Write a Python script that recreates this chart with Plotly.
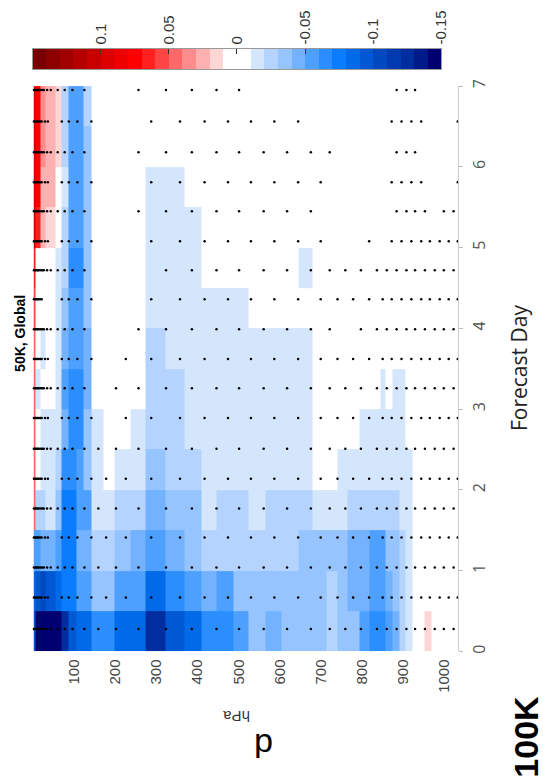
import numpy as np
import plotly.graph_objects as go

# ---------------- data ----------------
# pressure bin edges (hPa) and forecast-day bin edges
pressure_edges = [0, 4, 18, 30, 54, 69, 86, 105, 122, 141, 170, 198, 237, 273, 321, 369,
                  410, 446, 487, 525, 566, 604, 645, 681, 715, 741, 765, 794, 820, 846,
                  858, 875, 892, 906, 923, 940, 954, 969, 1035]
day_edges = [0, 0.5, 1.0, 1.5, 2.0, 2.5, 3.0, 3.5, 4.0, 4.5, 5.0, 5.5, 6.0, 6.5, 7.0]

# anomaly values in mK, one row per half-day bin (day 0-0.5 first)
anom_mK = [
    [-95, -145, -145, -145, -145, -125, -95, -85, -85, -65, -65, -85, -85, -125, -95, -85, -65, -65, -55, -35, -45, -35, -35, -35, -25, -35, -35, -55, -65, -65, -55, -45, -25, -15, 0, 0, 15, 0],
    [-85, -95, -105, -95, -85, -75, -75, -55, -55, -35, -35, -55, -55, -85, -65, -55, -45, -55, -35, -35, -35, -35, -35, -35, -25, -35, -45, -45, -55, -55, -45, -35, -25, -15, 0, 0, 0, 0],
    [-55, -55, -45, -45, -55, -75, -75, -45, -45, -25, -25, -35, -45, -55, -45, -35, -25, -25, -25, -25, -25, -25, -35, -35, -35, -35, -45, -45, -55, -55, -35, -35, -25, -15, 0, 0, 0, 0],
    [45, -25, -25, -15, -35, -75, -75, -55, -55, -15, -15, -25, -25, -45, -35, -35, -15, -25, -25, -15, -25, -25, -25, -15, -15, -15, -25, -25, -25, -25, -25, -25, -15, -15, 0, 0, 0, 0],
    [45, 0, -15, -15, -25, -65, -65, -55, -35, -15, 0, -15, -15, -35, -25, -25, -15, -15, -15, -15, -15, -15, -15, 0, 0, -15, -15, -15, -15, -15, -15, -15, -15, -15, 0, 0, 0, 0],
    [45, 0, -15, -15, -15, -45, -65, -65, -35, -15, 0, 0, -15, -25, -25, -15, -15, -15, -15, -15, -15, -15, -15, 0, 0, 0, 0, -15, -15, -15, -15, -15, -15, 0, 0, 0, 0, 0],
    [45, -15, 0, 0, -15, -55, -65, -65, -45, 0, 0, 0, 0, -25, -25, -15, -15, -15, -15, -15, -15, -15, -15, 0, 0, 0, 0, 0, 0, -15, 0, -15, -15, 0, 0, 0, 0, 0],
    [45, 0, -15, 0, -15, -45, -55, -55, -45, 0, 0, 0, 0, -25, -15, -15, -15, -15, -15, -15, -15, -15, -15, 0, 0, 0, 0, 0, 0, 0, 0, 0, 0, 0, 0, 0, 0, 0],
    [55, 0, 0, 0, -15, -35, -55, -55, -35, 0, 0, 0, 0, -15, -15, -15, -15, -15, -15, 0, 0, 0, 0, 0, 0, 0, 0, 0, 0, 0, 0, 0, 0, 0, 0, 0, 0, 0],
    [65, 0, 0, 0, -15, -25, -65, -65, -35, 0, 0, 0, 0, -15, -15, -15, 0, 0, 0, 0, 0, 0, -15, 0, 0, 0, 0, 0, 0, 0, 0, 0, 0, 0, 0, 0, 0, 0],
    [95, 65, 25, 15, 0, -25, -55, -55, -35, 0, 0, 0, 0, -15, -15, -15, 0, 0, 0, 0, 0, 0, 0, 0, 0, 0, 0, 0, 0, 0, 0, 0, 0, 0, 0, 0, 0, 0],
    [95, 75, 25, 25, 0, -15, -55, -55, -35, 0, 0, 0, 0, -15, -15, 0, 0, 0, 0, 0, 0, 0, 0, 0, 0, 0, 0, 0, 0, 0, 0, 0, 0, 0, 0, 0, 0, 0],
    [95, 75, 35, 25, 15, -25, -55, -55, -35, 0, 0, 0, 0, 0, 0, 0, 0, 0, 0, 0, 0, 0, 0, 0, 0, 0, 0, 0, 0, 0, 0, 0, 0, 0, 0, 0, 0, 0],
    [95, 75, 35, 25, 15, -25, -55, -55, -25, 0, 0, 0, 0, 0, 0, 0, 0, 0, 0, 0, 0, 0, 0, 0, 0, 0, 0, 0, 0, 0, 0, 0, 0, 0, 0, 0, 0, 0],
]

# significance dots: two staggered level sets
dot_p_A = [1, 4, 7, 10, 13, 17, 21, 25, 33, 42, 59, 76, 95, 124, 158, 201, 256, 323, 386, 446,
           501, 561, 618, 676, 722, 760, 798, 837, 861, 885, 909, 930, 954, 978, 1000, 1024]
dot_p_B = [1, 4, 7, 10, 13, 17, 20, 28, 35, 69, 86, 107, 141, 177, 225, 287, 357, 417, 474,
           530, 587, 645, 700, 741, 779, 818, 851, 873, 897, 921, 945, 966, 990, 1012, 1034]
dot_days_A = [6.95, 6.18, 5.45, 4.72, 3.99, 3.26, 2.51, 1.77, 1.04, 0.28]
dot_days_B = [6.56, 5.81, 5.08, 4.36, 3.62, 2.89, 2.14, 1.41, 0.67]
mask_A = [
    "11111111111111" "00" "11111" "00000000" "111" "0000",
    "11111111111111" "00" "111111111" "0000" "111" "0000",
    "11111111111111" "00" "11111111" "00000" "1111" "0" "11",
    "11111111111111" "000" "1111111111111111111",
    "11111111111111" "00" "111111111" "0" "1111111111",
    "11111111111111" "0" "111111111111111111111",
    "111111111111111111111111111111111111",
    "111111111111111111111111111111111111",
    "111111111111111111111111111111111111",
    "111111111111111111111111111111111111",
]
mask_B = [
    "1111111111111" "00" "1111111" "00000" "1111" "000" "1",
    "1111111111111" "00" "11111111" "0000" "1111" "000" "1",
    "1111111111111" "00" "11111111" "00" "1" "0" "11111111",
    "1111111" "00" "1111" "00" "11111111111111111111",
    "1111111111111" "0" "111111111111111111111",
    "1111111111111" "0" "111111111111111111111",
    "11111111111111111111111111111111111",
    "11111111111111111111111111111111111",
    "11111111111111111111111111111111111",
]

# colour bar: 30 steps of 0.01 from -0.15 to 0.15
cbar_colors = [
    "#000070", "#001a8a", "#002ea0", "#003ab0", "#0048c0", "#0058d4", "#006ae8",
    "#0a7cff", "#2b8eff", "#4ea0ff", "#72b2ff", "#96c4ff", "#b4d4ff", "#d4e6fc",
    "#ffffff", "#ffffff",
    "#ffd6d6", "#ffb0b0", "#ff8c8c", "#ff6868", "#ff4444", "#ff2020", "#ff0000",
    "#ee0000", "#dc0000", "#c80000", "#b40000", "#a00000", "#8c0000", "#780000",
]
cbar_ticks = [0.1, 0.05, 0, -0.05, -0.1, -0.15]
cbar_ticktext = ["0.1", "0.05", "0", "-0.05", "-0.1", "-0.15"]
pressure_ticks = [100, 200, 300, 400, 500, 600, 700, 800, 900, 1000]
day_ticks = [0, 1, 2, 3, 4, 5, 6, 7]

# ---------------- figure ----------------
W, H = 543, 782


def px(x):
    return x / W


def py(y):
    return 1 - y / H


colorscale = []
n = len(cbar_colors)
for i, c in enumerate(cbar_colors):
    colorscale.append([i / n, c])
    colorscale.append([(i + 1) / n, c])

z = np.array(anom_mK, dtype=float) / 1000.0

fig = go.Figure()
fig.add_trace(go.Heatmap(
    x=pressure_edges, y=day_edges, z=z, colorscale=colorscale,
    zmin=-0.15, zmax=0.15, showscale=False, hoverinfo="skip",
    xaxis="x", yaxis="y",
))

dx, dy = [], []
for d, m in zip(dot_days_A, mask_A):
    for p, f in zip(dot_p_A, m):
        if f == "1":
            dx.append(p)
            dy.append(d)
for d, m in zip(dot_days_B, mask_B):
    for p, f in zip(dot_p_B, m):
        if f == "1":
            dx.append(p)
            dy.append(d)
fig.add_trace(go.Scatter(
    x=dx, y=dy, mode="markers", cliponaxis=False, hoverinfo="skip",
    marker=dict(size=2.5, color="black", line=dict(width=0)),
    xaxis="x", yaxis="y", showlegend=False,
))

cbar_centers = np.linspace(0.145, -0.145, n)
fig.add_trace(go.Heatmap(
    x=cbar_centers, y=[0], z=[cbar_centers], colorscale=colorscale,
    zmin=-0.15, zmax=0.15, showscale=False, hoverinfo="skip",
    xaxis="x2", yaxis="y2",
))

fig.update_layout(
    width=W, height=H,
    margin=dict(l=0, r=0, t=0, b=0),
    paper_bgcolor="white", plot_bgcolor="white",
    showlegend=False,
    xaxis=dict(
        domain=[px(34), px(465)], range=[0, 1035], anchor="y",
        tickvals=pressure_ticks, ticktext=[str(v) for v in pressure_ticks],
        tickangle=-90, ticks="", showgrid=False, zeroline=False, showline=False,
        ticklabelstandoff=4,
        tickfont=dict(family="Liberation Sans, Arial", size=15, color="#444"),
    ),
    yaxis=dict(
        domain=[py(652), py(80)], range=[0, 7], anchor="x", side="right",
        tickvals=day_ticks, ticktext=[str(v) for v in day_ticks],
        tickangle=-90, ticks="outside", ticklen=4, tickcolor="#bbb",
        ticklabelstandoff=3,
        showline=True, linecolor="#ccc", linewidth=1,
        showgrid=False, zeroline=False,
        tickfont=dict(family="Open Sans", size=16, color="#555"),
    ),
    xaxis2=dict(
        domain=[px(33), px(448)], range=[0.15, -0.15], anchor="y2", side="top",
        tickvals=cbar_ticks, ticktext=cbar_ticktext, tickangle=-90,
        ticks="inside", ticklen=5, tickcolor="#333",
        showline=True, mirror=True, linecolor="#999", linewidth=1,
        showgrid=False, zeroline=False,
        tickfont=dict(family="Liberation Sans, Arial", size=15, color="#333"),
    ),
    yaxis2=dict(
        domain=[py(63), py(42)], range=[-0.5, 0.5], anchor="x2",
        showticklabels=False, ticks="", showline=True, mirror=True,
        linecolor="#999", linewidth=1, showgrid=False, zeroline=False,
    ),
)

annos = [
    dict(text="<b>50K, Global</b>", x=px(21), y=py(330), textangle=-90,
         font=dict(family="Liberation Sans, Arial", size=14, color="black")),
    dict(text="hPa", x=px(240), y=py(718), textangle=180,
         font=dict(family="Liberation Sans, Arial", size=15, color="#333")),
    dict(text="d", x=px(268), y=py(747), textangle=180,
         font=dict(family="Liberation Sans, Arial", size=34, color="black")),
    dict(text="Forecast Day", x=px(527), y=py(365), textangle=-90,
         font=dict(family="Open Sans", size=21, color="#222")),
    dict(text="<b>100K</b>", x=px(533), y=py(738), textangle=-90,
         font=dict(family="Liberation Sans, Arial", size=34, color="black")),
]
for a in annos:
    fig.add_annotation(xref="paper", yref="paper", showarrow=False,
                       xanchor="center", yanchor="middle", **a)

fig.write_html("out.html")
